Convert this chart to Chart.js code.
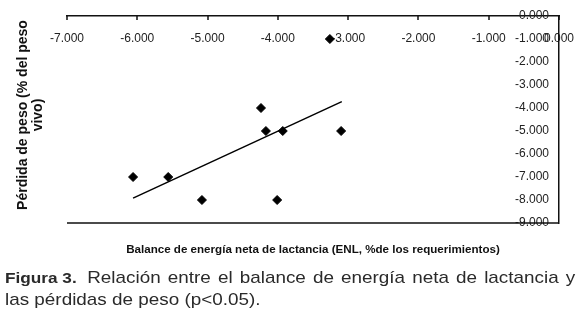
<!DOCTYPE html>
<html>
<head>
<meta charset="utf-8">
<script src="https://cdn.jsdelivr.net/npm/chart.js@4.4.0/dist/chart.umd.min.js"></script>
<style>
  html, body { margin: 0; padding: 0; background: #fff; }
  #wrap { position: relative; width: 580px; height: 319px; overflow: hidden; font-family: "Liberation Sans", Arial, sans-serif; }
  #chart { position: absolute; left: 0; top: 0; }
  .ytitle {
    position: absolute; left: 30px; top: 115px; width: 240px;
    transform: translate(-50%, -50%) rotate(-90deg);
    text-align: center; font-weight: bold; font-size: 14px; line-height: 15px; color: #111;
  }
  .xtitle {
    position: absolute; left: 313px; top: 242px; white-space: nowrap;
    transform: translateX(-50%);
    font-family: "Liberation Sans Narrow", "Arial Narrow", "Liberation Sans", sans-serif;
    font-weight: bold; font-size: 11.6px; color: #111;
  }
  .caption {
    position: absolute; left: 5px; top: 267px; width: 575px;
    font-size: 17px; line-height: 22px; color: #2a2a2a; white-space: nowrap;
    transform: scaleX(1.11); transform-origin: left top;
  }
  .caption b { font-size: 15.5px; }
  .caption .l1 { word-spacing: 1.7px; }
</style>
</head>
<body>
<div id="wrap">
  <canvas id="chart" width="580" height="319"></canvas>
  <div class="ytitle">Pérdida de peso (% del peso<br>vivo)</div>
  <div class="xtitle">Balance de energía neta de lactancia (ENL, %de los requerimientos)</div>
  <div class="caption"><b>Figura 3.</b>&nbsp; <span class="l1">Relación entre el balance de energía neta de lactancia y</span><br>las pérdidas de peso (p&lt;0.05).</div>
</div>
<script>
// balance ENL (x) and weight loss (y)
const balanceENL = [-6060, -5560, -5080, -4240, -4170, -3930, -4010, -3100, -3260];
const perdidaPeso = [-7, -7, -8, -4, -5, -5, -8, -5, -1];

// end points of the fitted line
const trendX = [-6060, -3090];
const trendY = [-7.92, -3.72];

const xTicks = [-7000, -6000, -5000, -4000, -3000, -2000, -1000, 0];
const xTickLabels = ['-7.000', '-6.000', '-5.000', '-4.000', '-3.000', '-2.000', '-1.000', '0.000'];
const yTicks = [0, -1, -2, -3, -4, -5, -6, -7, -8, -9];
const yTickLabels = ['0.000', '-1.000', '-2.000', '-3.000', '-4.000', '-5.000', '-6.000', '-7.000', '-8.000', '-9.000'];

const points = balanceENL.map((x, i) => ({ x: x, y: perdidaPeso[i] }));
const trend = trendX.map((x, i) => ({ x: x, y: trendY[i] }));

// bottom frame line + downward tick marks on the top axis
const frameLine = {
  id: 'frameLine',
  afterDraw(chart) {
    const { ctx, chartArea } = chart;
    const xs = chart.scales.x;
    ctx.save();
    ctx.strokeStyle = '#111';
    ctx.lineWidth = 1.5;
    ctx.beginPath();
    ctx.moveTo(chartArea.left, chartArea.bottom);
    ctx.lineTo(chartArea.right, chartArea.bottom);
    xTicks.forEach(v => {
      const px = Math.round(xs.getPixelForValue(v));
      ctx.moveTo(px, chartArea.top);
      ctx.lineTo(px, chartArea.top + 4);
    });
    ctx.stroke();
    ctx.restore();
  }
};

const tickFont = { family: '"Liberation Sans", Arial, sans-serif', size: 12 };

new Chart(document.getElementById('chart'), {
  type: 'scatter',
  data: {
    datasets: [
      {
        label: 'Pérdida de peso',
        data: points,
        backgroundColor: '#000',
        borderColor: '#000',
        pointStyle: 'rectRot',
        pointRadius: 4.5,
      },
      {
        type: 'line',
        label: 'Tendencia',
        data: trend,
        borderColor: '#000',
        borderWidth: 1.5,
        pointRadius: 0,
        fill: false,
      }
    ]
  },
  options: {
    responsive: false,
    animation: false,
    layout: { padding: { left: 67, right: 21, top: 16, bottom: 96 } },
    plugins: { legend: { display: false }, tooltip: { enabled: false } },
    scales: {
      x: {
        type: 'linear',
        min: -7000,
        max: 0,
        position: { y: 0 },
        afterBuildTicks: (scale) => { scale.ticks = xTicks.map(v => ({ value: v })); },
        afterFit: (scale) => { scale.paddingLeft = 0; scale.paddingRight = 0; },
        ticks: {
          padding: 7,
          color: '#222',
          font: tickFont,
          maxRotation: 0,
          callback: (v) => xTickLabels[xTicks.indexOf(v)],
        },
        grid: { display: false },
        border: { display: true, color: '#111', width: 1.5 },
      },
      y: {
        type: 'linear',
        min: -9,
        max: 0,
        position: 'right',
        afterBuildTicks: (scale) => { scale.ticks = yTicks.map(v => ({ value: v })); },
        afterFit: (scale) => { scale.width = 0; scale.paddingTop = 0; scale.paddingBottom = 0; },
        ticks: {
          mirror: true,
          padding: -10,
          color: '#222',
          font: tickFont,
          callback: (v) => yTickLabels[yTicks.indexOf(v)],
        },
        grid: { display: true, drawOnChartArea: false, drawTicks: false, tickLength: 0, color: '#111' },
        border: { display: true, color: '#111', width: 1.5 },
      }
    }
  },
  plugins: [frameLine]
});
</script>
</body>
</html>
